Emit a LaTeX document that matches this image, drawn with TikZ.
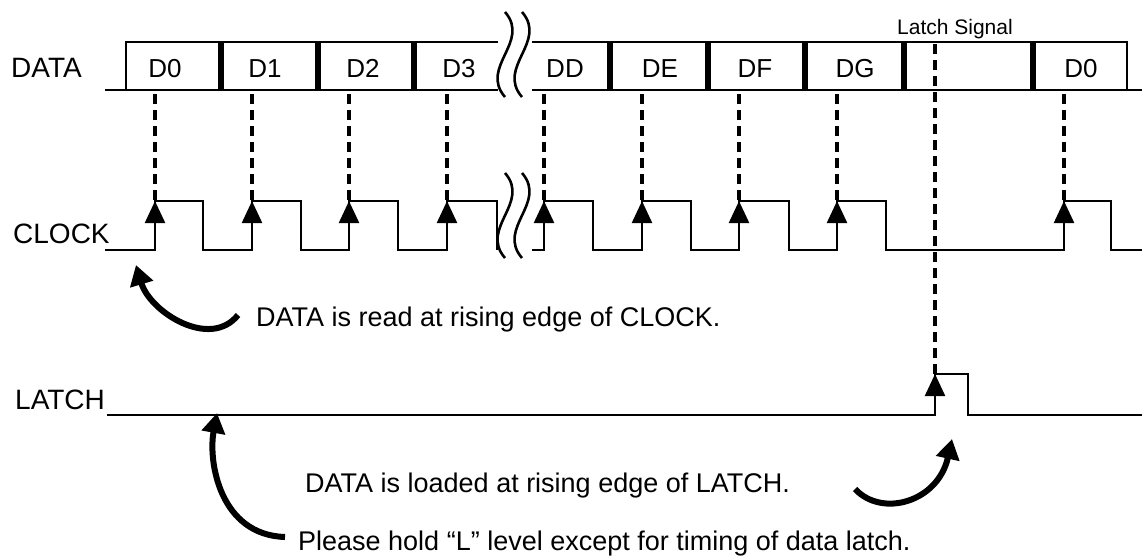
\documentclass[tikz,border=0pt]{standalone}
\usepackage{fontspec}
\setmainfont{Liberation Sans}
\usetikzlibrary{arrows.meta}

\tikzset{
	wave/.style={line width=2.3pt},
	rise/.style={line width=2.3pt, -{Triangle[length=22pt, width=20pt]}},
	guide/.style={line width=3.2pt, dash pattern=on 10pt off 6pt},
	bend arrow/.style={line width=6pt, -{Triangle[length=20pt, width=23pt]}},
	brk/.style={line width=2.6pt},
	signame/.style={font=\fontsize{28}{32}\selectfont, anchor=base west, inner sep=0pt},
	cell/.style={font=\fontsize{26}{30}\selectfont, anchor=base, inner sep=0pt},
	note/.style={font=\fontsize{27}{31}\selectfont, anchor=base west, inner sep=0pt},
	tag/.style={font=\fontsize{21}{24}\selectfont, anchor=base west, inner sep=0pt}
}

% two wavy break strokes
\newcommand{\brkmark}[3]{\draw[brk] (#1,#2) .. controls (#1+26,#2+30) and (#1-26,#3-30) .. (#1,#3);}

\begin{document}
\begin{tikzpicture}[x=1pt, y=-1pt]
			\useasboundingbox (0,0) rectangle (1142,556);
			
			% DATA row
			\draw (11,78) node[signame] {DATA};
			\draw[wave] (105,90) -- (125,90);
			\draw[wave] (126,42) rectangle (219.5,90);
			\draw[wave] (222.5,42) rectangle (316.5,90);
			\draw[wave] (319.5,42) rectangle (412.5,90);
			\draw[wave] (498,42) -- (415.5,42) -- (415.5,90) -- (498,90);
			\draw[wave] (532,42) -- (608.5,42) -- (608.5,90) -- (532,90);
			\draw[wave] (611.5,42) rectangle (706.5,90);
			\draw[wave] (709.5,42) rectangle (803.5,90);
			\draw[wave] (806.5,42) rectangle (902.5,90);
			\draw[wave] (905.5,42) rectangle (1031.5,90);
			\draw[wave] (1034.5,42) rectangle (1127,90);
			\draw[wave] (1127,90) -- (1142,90);
			\draw (165,78) node[cell] {D0};
			\draw (265,78) node[cell] {D1};
			\draw (363,78) node[cell] {D2};
			\draw (459,78) node[cell] {D3};
			\draw (565,78) node[cell] {DD};
			\draw (660,78) node[cell] {DE};
			\draw (755,78) node[cell] {DF};
			\draw (855,78) node[cell] {DG};
			\draw (1081,78) node[cell] {D0};
			\draw (897,35) node[tag] {Latch Signal};
			\brkmark{505}{12}{97}
			\brkmark{522}{12}{97}
			
			% sampling guides
			\foreach \x in {155,252,349,447,544,642,739,837,1064}
				\draw[guide] (\x,94) -- (\x,201);
			\draw[guide] (935,44) -- (935,374);
			
			% CLOCK row
			\draw (13,243) node[signame] {CLOCK};
			\draw[wave] (105,250) -- (155,250) -- (155,201) -- (203,201) -- (203,250)
				-- (252,250) -- (252,201) -- (301,201) -- (301,250)
				-- (349,250) -- (349,201) -- (398,201) -- (398,250)
				-- (447,250) -- (447,201) -- (497,201) -- (497,250);
			\draw[wave] (532,250) -- (544,250) -- (544,201) -- (593,201) -- (593,250)
				-- (642,250) -- (642,201) -- (691,201) -- (691,250)
				-- (739,250) -- (739,201) -- (789,201) -- (789,250)
				-- (837,250) -- (837,201) -- (886,201) -- (886,250)
				-- (1064,250) -- (1064,201) -- (1111,201) -- (1111,250) -- (1142,250);
			\foreach \x in {155,252,349,447,544,642,739,837,1064}
				\draw[rise] (\x,250) -- (\x,201);
			\brkmark{505}{173}{258}
			\brkmark{522}{173}{258}
			
			% LATCH row
			\draw (15,409) node[signame] {LATCH};
			\draw[wave] (107,415) -- (935,415) -- (935,374) -- (968,374) -- (968,415) -- (1142,415);
			\draw[rise] (935,415) -- (935,374);
			
			% Notes
			\draw[bend arrow] (238,315) .. controls (210,350) and (150,312) .. (136,265);
			\draw (256,326) node[note] {DATA is read at rising edge of CLOCK.};
			\draw[bend arrow] (855,489) .. controls (882,518) and (938,502) .. (952,439);
			\draw (305,492) node[note] {DATA is loaded at rising edge of LATCH.};
			\draw[bend arrow] (285,537) .. controls (220,535) and (208,462) .. (217,413);
			\draw (298,550) node[note] {Please hold “L” level except for timing of data latch.};
			
\end{tikzpicture}
\end{document}
